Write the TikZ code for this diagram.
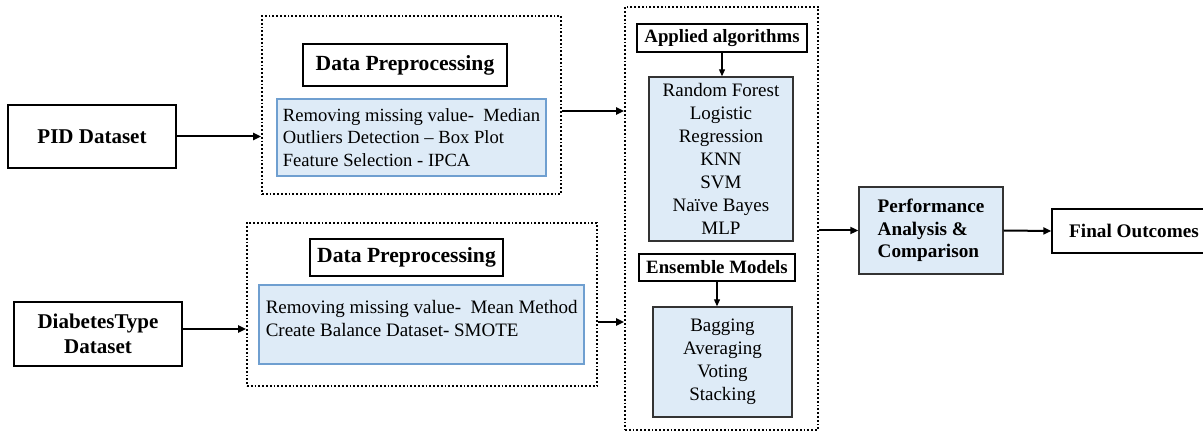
\documentclass[tikz,border=0pt]{standalone}
\usepackage{fontspec}
\setmainfont{Liberation Serif}
\usepackage{xcolor}
\usepackage{tikz}
\usetikzlibrary{positioning, calc, arrows.meta}

\definecolor{stepfill}{HTML}{DEEBF7}
\definecolor{stepline}{HTML}{6F9FD0}

\begin{document}
\begin{tikzpicture}[x=0.5pt, y=-0.5pt,
        % Style for the two input datasets
        datanode/.style={
            draw,
            line width=1pt,
            font=\fontsize{10.5}{12.5}\selectfont\bfseries,
            align=center,
            inner sep=0pt
        },
        % Style for the dotted stage frames
        stageframe/.style={
            draw,
            densely dotted,
            line width=0.9pt,
            inner sep=0pt
        },
        % Style for the bold titles
        titlebox/.style={
            draw,
            line width=0.7pt,
            inner sep=0pt,
            font=\fontsize{10.8}{13}\selectfont\bfseries
        },
        % Style for the blue step lists
        stepbox/.style={
            draw=stepline,
            fill=stepfill,
            line width=0.6pt,
            inner sep=0pt,
            align=left,
            font=\fontsize{9.3}{11.3}\selectfont
        },
        % Style for the blue model lists
        modelbox/.style={
            draw=black!80,
            fill=stepfill,
            line width=0.7pt,
            inner sep=0pt,
            align=center,
            font=\fontsize{9.5}{11.5}\selectfont
        },
        % Style for the arrows
        flow/.style={
            -{Triangle[length=4pt, width=3.5pt]},
            line width=1pt
        },
        smallflow/.style={
            -{Triangle[length=3.5pt, width=3pt]},
            line width=0.6pt
        }
    ]
    \useasboundingbox (0,0) rectangle (1203,432);

    % ==========================================
    % INPUT DATASETS
    % ==========================================
    \node[datanode, minimum width=84pt, minimum height=31.5pt] (pid) at (92,136.5) {PID Dataset};
    \node[datanode, minimum width=84pt, minimum height=32pt] (diab) at (98,334) {DiabetesType\\Dataset};

    % ==========================================
    % PREPROCESSING STAGES
    % ==========================================
    \node[stageframe, minimum width=149.5pt, minimum height=89pt] (prep1) at (411.5,105) {};
    \node[titlebox, minimum width=102pt, minimum height=21pt] (dphead1) at (405,65) {Data Preprocessing};
    \node[stepbox, minimum width=134.5pt, minimum height=38.5pt] (steps1) at (411.5,137.5)
        {Removing missing value-\ \ Median\\Outliers Detection -- Box Plot\\Feature Selection - IPCA};

    \node[stageframe, minimum width=175pt, minimum height=81.5pt] (prep2) at (422,304.5) {};
    \node[titlebox, minimum width=96.5pt, minimum height=18.5pt] (dphead2) at (406.5,257.5) {Data Preprocessing};
    \node[stepbox, minimum width=162.5pt, minimum height=39.5pt] (steps2) at (421.5,324.5) {};
    \node[anchor=north west, align=left, inner sep=0pt, font=\fontsize{9.5}{11.3}\selectfont]
        (steps2txt) at ($(steps2.north west)+(7,16)$)
        {Removing missing value-\ \ Mean Method\\Create Balance Dataset-\ SMOTE};

    % ==========================================
    % MODELS
    % ==========================================
    \node[stageframe, minimum width=96.5pt, minimum height=211.5pt] (models) at (721.5,218.5) {};
    \node[titlebox, minimum width=85pt, minimum height=14pt, font=\fontsize{9.4}{11}\selectfont\bfseries] (algohead) at (722,38) {Applied algorithms};
    \node[modelbox, minimum width=72pt, minimum height=82pt] (algolist) at (721,159)
        {Random Forest\\Logistic\\Regression\\KNN\\SVM\\Na\"ive Bayes\\MLP};
    \node[titlebox, minimum width=78pt, minimum height=13.5pt, font=\fontsize{9.4}{11}\selectfont\bfseries] (enshead) at (717,267.5) {Ensemble Models};
    \node[modelbox, minimum width=69.5pt, minimum height=55pt] (enslist) at (722.5,362)
        {Bagging\\Averaging\\Voting\\Stacking};

    % ==========================================
    % RESULTS
    % ==========================================
    \node[modelbox, align=left, minimum width=72pt, minimum height=43.5pt,
          font=\fontsize{9.6}{11.3}\selectfont\bfseries] (perf) at (931,230.5)
        {Performance\\Analysis \&\\Comparison};
    \node[titlebox, minimum width=82pt, minimum height=22pt, font=\fontsize{9.6}{11}\selectfont\bfseries] (final) at (1134,231) {Final Outcomes};

    % arrows
    \draw[flow] (pid.east) -- (pid.east -| prep1.west);
    \draw[flow] ([yshift=2.5pt]diab.east) -- ([yshift=2.5pt]diab.east -| prep2.west);
    \draw[flow] ([yshift=-3pt]prep1.east) -- ([yshift=-3pt]prep1.east -| models.west);
    \draw[flow] ([yshift=-8.75pt]prep2.east) -- ([yshift=-8.75pt]prep2.east -| models.west);
    \draw[smallflow] (algohead.south) -- (algolist.north -| algohead.south);
    \draw[smallflow] (enshead.south) -- (enshead.south |- enslist.north);
    \draw[flow] (perf.west -| models.east) -- (perf.west);
    \draw[flow] (perf.east) -- (final.west);
\end{tikzpicture}
\end{document}
